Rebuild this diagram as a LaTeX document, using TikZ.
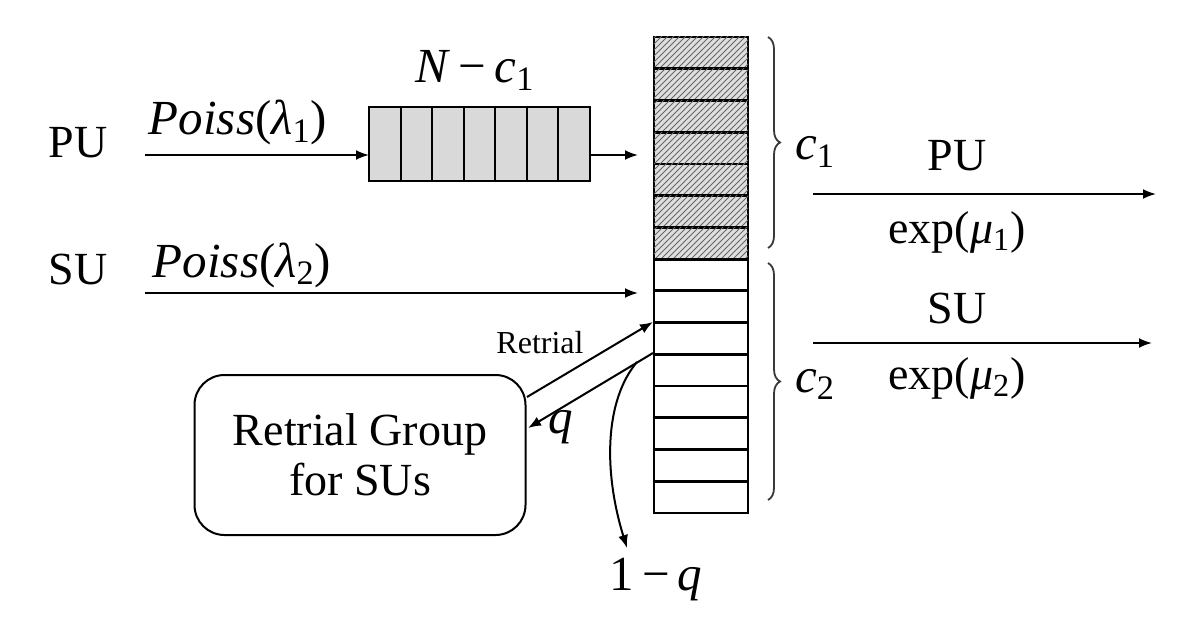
\documentclass[tikz,border=0pt]{standalone}
\usepackage{fontspec}
\setmainfont{Liberation Serif}
\usetikzlibrary{patterns,decorations.pathreplacing,arrows.meta}
\newcommand\subx[1]{\textsubscript{#1}}
\begin{document}
\begin{tikzpicture}[x=0.5pt,y=-0.5pt,
  font=\fontsize{23}{27}\selectfont,
  bigf/.style={font=\fontsize{24.5}{28}\selectfont},
  arr/.style={line width=1pt,-{Latex[length=6.5pt,width=5pt]}},
  lbl/.style={anchor=base,inner sep=0pt},
  cellh/.style={draw,line width=1.4pt,fill=gray!25,postaction={pattern=north east lines,pattern color=gray!80!black}},
  cellw/.style={draw,line width=1.4pt,fill=white},
  qcell/.style={draw,line width=1pt,fill=gray!30},
  brc/.style={decorate,decoration={brace,amplitude=6pt},draw=gray!45!black,line width=0.9pt},
  grp/.style={draw,line width=1pt,rounded corners=15pt,minimum width=165.5pt,minimum height=80pt,align=center,inner sep=0pt}]
\useasboundingbox (0,0) rectangle (1200,626);

% column of channels
\foreach \i in {0,...,6}
  \draw[cellh] (654,{37+\i*31.73}) rectangle (748,{37+(\i+1)*31.73});
\foreach \i in {7,...,14}
  \draw[cellw] (654,{37+\i*31.73}) rectangle (748,{37+(\i+1)*31.73});

% queue
\foreach \i in {0,...,6}
  \draw[qcell] ({369+\i*31.57},107) rectangle ({369+(\i+1)*31.57},181);
\node[lbl,bigf] (nc) at (475,83) {\textit{N}\,−\,\textit{c}\subx{1}};

% braces
\draw[brc] (768,37) -- (768,248);
\draw[brc] (768,263) -- (768,500);
\node[lbl,bigf] (c1) at (815,160) {\textit{c}\subx{1}};
\node[lbl,bigf] (c2) at (815,392) {\textit{c}\subx{2}};

% coordinates
\coordinate (puin) at (145,155);
\coordinate (qin) at (369,155);
\coordinate (qout) at (590,155);
\coordinate (colpu) at (638,155);
\coordinate (suin) at (145,293);
\coordinate (colsu) at (638,293);
\coordinate (puo1) at (813,194);
\coordinate (puo2) at (1156,194);
\coordinate (suo1) at (813,343);
\coordinate (suo2) at (1152,343);
\coordinate (rtip) at (653,322);
\coordinate (qstart) at (653,353);
\coordinate (lqs) at (637,362);
\coordinate (lqe) at (627,548);

% left labels
\node[lbl] (pu) at (78,158) {PU};
\node[lbl] (su) at (78,284) {SU};
\node[lbl,bigf] (p1) at (238,135) {\textit{Poiss}(\textit{λ}\subx{1})};
\node[lbl,bigf] (p2) at (242,277) {\textit{Poiss}(\textit{λ}\subx{2})};

\draw[arr] (puin) -- (qin);
\draw[arr] (qout) -- (colpu);
\draw[arr] (suin) -- (colsu);

% right side
\draw[arr] (puo1) -- (puo2);
\draw[arr] (suo1) -- (suo2);
\node[lbl] (pur) at (957,170) {PU};
\node[lbl] (e1) at (957,243) {exp(\textit{μ}\subx{1})};
\node[lbl] (sur) at (957,323) {SU};
\node[lbl] (e2) at (957,389) {exp(\textit{μ}\subx{2})};

% retrial group
\node[grp] (rg) at (360,455) {Retrial Group\\[-2pt]for SUs};
\coordinate (rgout) at (527,397);
\coordinate (rgin) at (528,428);
\draw[arr] (rgout) -- (rtip);
\draw[arr] (qstart) -- (rgin);
\node[lbl,font=\fontsize{16}{18}\selectfont] (rl) at (540,353) {Retrial};
\node[lbl,bigf] (ql) at (561,433) {\textit{q}};
\draw[arr] (lqs) .. controls (605,400) and (603,470) .. (lqe);
\node[lbl,bigf] (lq) at (656,590) {1\,−\,\textit{q}};
\end{tikzpicture}
\end{document}
